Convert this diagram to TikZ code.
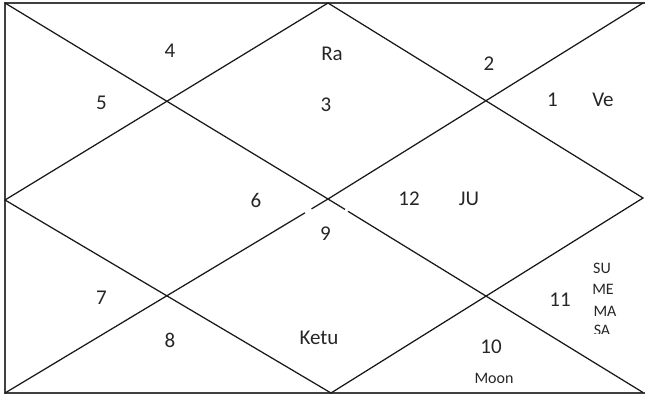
\documentclass[tikz,border=0pt]{standalone}
\usepackage{fontspec}
\setmainfont{Carlito}
\tikzset{
  chartline/.style={draw=black!90, line width=1.25pt},
  frameline/.style={draw=black!75, line width=1.2pt},
  lab/.style={inner sep=0pt, text=black!85, font=\fontsize{21}{21}\selectfont},
  small/.style={inner sep=0pt, text=black!85, font=\fontsize{16}{16}\selectfont}
}
\begin{document}
\begin{tikzpicture}[x=1pt,y=-1pt]
\useasboundingbox (0,0) rectangle (645,397);
% corners and key points
\coordinate (TL) at (5,3);
\coordinate (TR) at (643,3);
\coordinate (TRe) at (645,3);
\coordinate (BL) at (5,393);
\coordinate (BR) at (643,392.5);
\coordinate (BRe) at (645,393);
\coordinate (C) at (328,199);
\coordinate (T) at (328,3);
\coordinate (R) at (643,198);
\coordinate (B) at (331,393);
\coordinate (L) at (5,200);
\coordinate (g1) at (305,212.8);
\coordinate (g2) at (311.5,208.9);
\coordinate (g3) at (345,209.4);
\coordinate (g4) at (348,211.3);
% frame
\draw[frameline] (TRe) -- (TL) -- (BL) -- (BRe);
% diagonals
\draw[chartline] (BL) -- (g1);
\draw[chartline] (g2) -- (C) -- (TR);
\draw[chartline] (TL) -- (C) -- (g3);
\draw[chartline] (g4) -- (BR);
% diamond
\draw[chartline] (T) -- (R) -- (B) -- (L) -- cycle;
% labels
\node[lab] (n4) at (170,51) {4};
\node[lab] (ra) at (332,54) {Ra};
\node[lab] (n2) at (489,64) {2};
\node[lab] (n5) at (101.5,103) {5};
\node[lab] (n3) at (326,105) {3};
\node[lab] (n1) at (552.5,100) {1};
\node[lab] (ve) at (603,100) {Ve};
\node[lab] (n6) at (256,200) {6};
\node[lab] (n12) at (409,199) {12};
\node[lab] (ju) at (469,199) {JU};
\node[lab] (n9) at (325.5,234) {9};
\node[lab] (n7) at (101.5,298) {7};
\node[lab] (n11) at (560,300) {11};
\node[lab] (n8) at (170,340) {8};
\node[lab] (ketu) at (319,338) {Ketu};
\node[lab] (n10) at (491,347) {10};
\node[small] (moon) at (494,378) {Moon};
\node[small] (su) at (602,268) {SU};
\node[small] (me) at (603,289.5) {ME};
\node[small] (ma) at (605,311) {MA};
\begin{scope}
\clip (580,318) rectangle (630,333.5);
\node[small] (sa) at (602,330.5) {SA};
\end{scope}
\end{tikzpicture}
\end{document}
